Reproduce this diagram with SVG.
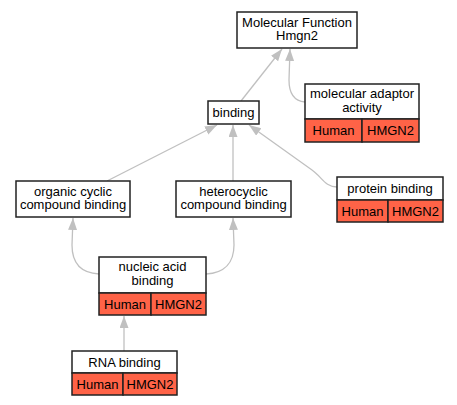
<svg xmlns="http://www.w3.org/2000/svg" width="457" height="405" viewBox="0 0 457 405">
<defs>
<style>
.box{fill:#ffffff;stroke:#222222;stroke-width:1.5}
.sp{fill:#ff6347;stroke:#222222;stroke-width:1.5}
text{font-family:"Liberation Sans",Arial,sans-serif;font-size:13px;fill:#000000;text-anchor:middle}
.e{fill:none;stroke:#c0c0c0;stroke-width:1.3;marker-end:url(#ah)}
</style>
<marker id="ah" markerWidth="12" markerHeight="10" refX="12" refY="4.5" orient="auto" markerUnits="userSpaceOnUse">
<path d="M0,0 L12,4.5 L0,9 z" fill="#c0c0c0"/>
</marker>
</defs>
<rect width="457" height="405" fill="#ffffff"/>
<g id="edges">
<path class="e" d="M241,101 L282,49"/>
<path class="e" d="M305,102 C293,101 289,92 289,80 L290,49"/>
<path class="e" d="M107,181 L217,125"/>
<path class="e" d="M233,181 L233,125"/>
<path class="e" d="M337,187 C325,187 322,177 312,170 L249,125"/>
<path class="e" d="M99,274 C80,273 72,262 72,245 L73,218"/>
<path class="e" d="M206,274 C225,273 234,262 234,245 L233,218"/>
<path class="e" d="M124,351 L124,316"/>
</g>
<g id="mf">
<rect class="box" x="237" y="12" width="120" height="36"/>
<text x="297" y="26.5">Molecular Function</text>
<text x="297" y="40">Hmgn2</text>
</g>
<g id="adaptor">
<rect class="box" x="305" y="84" width="114" height="35"/>
<rect class="sp" x="305" y="119" width="57" height="23"/>
<rect class="sp" x="362" y="119" width="57" height="23"/>
<text x="362" y="98">molecular adaptor</text>
<text x="362" y="112">activity</text>
<text x="333.5" y="135">Human</text>
<text x="390.5" y="135">HMGN2</text>
</g>
<g id="binding">
<rect class="box" x="208" y="101" width="51" height="23"/>
<text x="233.5" y="117">binding</text>
</g>
<g id="organic">
<rect class="box" x="16" y="181" width="114" height="36"/>
<text x="73" y="195.5">organic cyclic</text>
<text x="73" y="209">compound binding</text>
</g>
<g id="hetero">
<rect class="box" x="176" y="181" width="115" height="36"/>
<text x="233.5" y="195.5">heterocyclic</text>
<text x="233.5" y="209">compound binding</text>
</g>
<g id="protein">
<rect class="box" x="337" y="177" width="106" height="23"/>
<rect class="sp" x="337" y="200" width="51" height="22"/>
<rect class="sp" x="388" y="200" width="55" height="22"/>
<text x="390" y="193">protein binding</text>
<text x="362.5" y="215.5">Human</text>
<text x="415.5" y="215.5">HMGN2</text>
</g>
<g id="nucleic">
<rect class="box" x="99" y="257" width="107" height="36"/>
<rect class="sp" x="99" y="293" width="52" height="22"/>
<rect class="sp" x="151" y="293" width="55" height="22"/>
<text x="152.5" y="271">nucleic acid</text>
<text x="152.5" y="285">binding</text>
<text x="125" y="308.5">Human</text>
<text x="178.5" y="308.5">HMGN2</text>
</g>
<g id="rna">
<rect class="box" x="72" y="351" width="105" height="22"/>
<rect class="sp" x="72" y="373" width="51" height="22"/>
<rect class="sp" x="123" y="373" width="54" height="22"/>
<text x="124.5" y="366.5">RNA binding</text>
<text x="97.5" y="388.5">Human</text>
<text x="150" y="388.5">HMGN2</text>
</g>
</svg>
